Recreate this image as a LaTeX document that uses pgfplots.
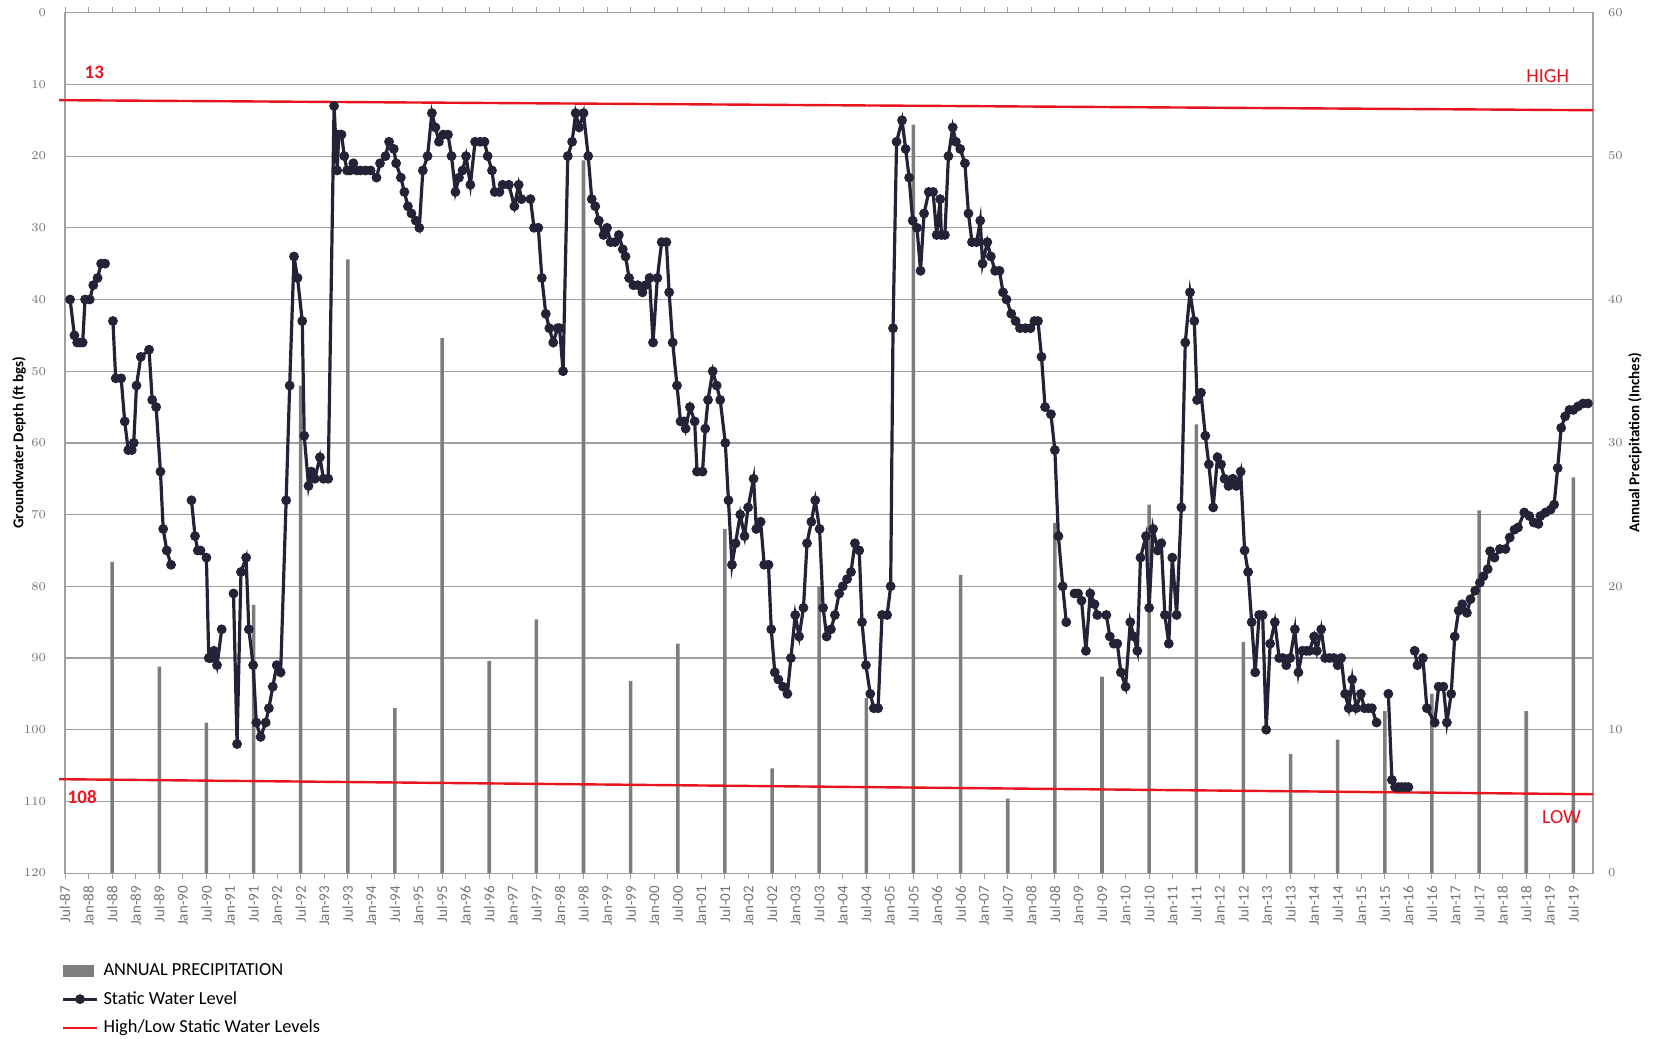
\documentclass[border=0pt]{standalone}
\usepackage{fontspec}
\setmainfont{Carlito}
\usepackage{pgfplots}
\pgfplotsset{compat=1.18}
\usetikzlibrary{calc}

\definecolor{navy}{RGB}{35,35,55}
\definecolor{bargray}{RGB}{125,125,125}
\definecolor{gridgray}{RGB}{160,160,160}
\definecolor{tickgray}{RGB}{115,115,115}
\definecolor{hlred}{RGB}{232,20,30}

\pgfplotsset{base/.style={width=764pt,height=430.2pt,scale only axis,
  xmin=0,xmax=389,clip=false,axis line style={gridgray,line width=0.6pt}}}

\begin{document}
\begin{tikzpicture}
% ---------- axis 1 : frame, grid, x ticks, left labels
\begin{axis}[base,name=main,
  ymin=0,ymax=120,y dir=reverse,
  ytick={0,10,...,120},
  ymajorgrids=true,
  grid style={gridgray,line width=0.6pt},
  ytick style={draw=none},
  yticklabel style={font=\fontsize{6.5}{8}\selectfont,text=tickgray,xshift=-3pt},
  xtick={0,6,...,384},
  xticklabels={Jul-87,Jan-88,Jul-88,Jan-89,Jul-89,Jan-90,Jul-90,Jan-91,Jul-91,Jan-92,Jul-92,Jan-93,Jul-93,Jan-94,Jul-94,Jan-95,Jul-95,Jan-96,Jul-96,Jan-97,Jul-97,Jan-98,Jul-98,Jan-99,Jul-99,Jan-00,Jul-00,Jan-01,Jul-01,Jan-02,Jul-02,Jan-03,Jul-03,Jan-04,Jul-04,Jan-05,Jul-05,Jan-06,Jul-06,Jan-07,Jul-07,Jan-08,Jul-08,Jan-09,Jul-09,Jan-10,Jul-10,Jan-11,Jul-11,Jan-12,Jul-12,Jan-13,Jul-13,Jan-14,Jul-14,Jan-15,Jul-15,Jan-16,Jul-16,Jan-17,Jul-17,Jan-18,Jul-18,Jan-19,Jul-19},
  x tick label style={rotate=90,anchor=east,font=\fontsize{7.5}{9}\selectfont,text=tickgray},
  tick align=outside,
  xtick style={gridgray,line width=0.5pt},
  major tick length=3pt,
  ylabel={\textbf{Groundwater Depth (ft bgs)}},
  y label style={at={(axis description cs:-0.0301,0.5)},anchor=center,font=\fontsize{7.5}{9}\selectfont},
]
\addplot[draw=none] coordinates {(0,0)};
\end{axis}
% ---------- axis 2 : precipitation bars, right axis
\begin{axis}[base,
  ymin=0,ymax=60,
  axis y line*=right, axis x line=none,
  xtick=\empty,
  ytick={0,10,...,60},
  ytick style={draw=none},
  yticklabel style={font=\fontsize{6.5}{8}\selectfont,text=tickgray,xshift=4pt},
  ylabel={\textbf{Annual Precipitation (Inches)}},
  y label style={at={(axis description cs:1.0275,0.5)},anchor=center,font=\fontsize{7.5}{9}\selectfont},
]
\addplot[ybar,bar width=0.9,fill=bargray,draw=none] coordinates {
(12,21.7) (24,14.4) (36,10.5) (48,18.7) (60,34) (72,42.8) (84,11.5) (96,37.3)
(108,14.8) (120,17.7) (132,49.7) (144,13.4) (156,16) (168,24) (180,7.3) (192,20)
(204,12.2) (216,52.2) (228,20.8) (240,5.2) (252,24.4) (264,13.7) (276,25.7) (288,31.3)
(300,16.1) (312,8.3) (324,9.3) (336,11.3) (348,12.5) (360,25.3) (372,11.3) (384,27.6)
};
\end{axis}
% ---------- axis 3 : water level + high/low lines
\begin{axis}[base,
  ymin=0,ymax=120,y dir=reverse,hide axis,
  unbounded coords=jump,
  legend style={at={(axis description cs:0,0)},anchor=north west,xshift=-2pt,yshift=-42.6pt,
    draw=none,fill=none,font=\fontsize{9.2}{10}\selectfont,inner sep=0pt,
    nodes={inner sep=2.4pt},row sep=1.6pt},
  legend cell align=left,
]
\addlegendimage{legend image code/.code={\fill[bargray] (0pt,-2.6pt) rectangle (15pt,2.6pt);}}
\addlegendentry{ANNUAL PRECIPITATION}
\addplot[navy,line width=1.6pt,mark=*,mark size=2.2pt,mark options={fill=navy,draw=navy,line width=0.5pt}] coordinates {
(1.3,40) (2.4,45) (3.1,46) (3.8,46) (4.5,46) (5.1,40) (6.3,40) (7.2,38) (8.3,37) (9.2,35) (10.2,35)
(11,nan)
(12.2,43) (12.9,51) (14.3,51) (15.2,57) (16.1,61) (17,61) (17.5,60) (18.2,52) (19.3,48) (21.4,47) (22.2,54) (23.2,55) (24.3,64) (25,72) (25.9,75) (27,77)
(29,nan)
(32.2,68) (33.1,73) (33.8,75) (34.5,75) (36,76) (36.6,90) (37.2,90) (37.9,89) (38.7,91) (39.9,86)
(41,nan)
(42.9,81) (43.8,102) (44.8,78) (46.1,76) (46.8,86) (47.9,91) (48.7,99) (49.8,101) (51.1,99) (51.9,97) (52.9,94) (53.9,91) (54.9,92) (56.3,68) (57.2,52) (58.3,34) (59.2,37) (60.4,43) (60.9,59) (62,66) (62.7,64) (63.6,65) (64.9,62) (65.8,65) (67,65)
(68.5,13) (69.3,22) (69.7,17) (70.4,17) (71.1,20) (71.8,22) (72.6,22) (73.4,21) (74.3,22) (75.2,22) (76.5,22) (77.8,22) (79.3,23) (80.2,21) (81.6,20) (82.5,18) (83.7,19) (84.3,21) (85.5,23) (86.4,25) (87.3,27) (88.2,28) (89.3,29) (90.2,30)
(91.1,22) (92.3,20) (93.4,14) (94.3,16) (95.2,18) (96.3,17) (97.5,17) (98.4,20) (99.4,25) (100.3,23) (101.2,22) (102.1,20) (103.2,24) (104.4,18) (105.7,18) (106.8,18) (107.6,20) (108.7,22) (109.4,25) (110.6,25) (111.4,24) (113,24) (114.4,27) (115.5,24) (116.2,26) (118.5,26) (119.4,30) (120.5,30)
(121.4,37) (122.4,42) (123.3,44) (124.3,46) (125.4,44) (125.9,44) (126.8,50) (128,20) (129.1,18) (130,14) (130.9,16) (132,14) (133.2,20) (134.1,26) (135,27) (135.9,29) (137.1,31) (138,30) (138.9,32) (140,32) (141,31) (142,33) (142.7,34) (143.6,37) (144.7,38) (145.8,38) (147,39) (147.8,38) (148.8,37) (149.7,46) (150.8,37) (151.9,32) (153.1,32) (153.8,39) (154.7,46) (155.8,52)
(156.7,57) (157.6,57) (158,58) (159.1,55) (160.3,57) (160.9,64) (162.3,64) (163,58) (163.7,54) (164.9,50) (165.9,52) (166.8,54) (168.1,60) (168.9,68) (169.8,77) (170.7,74) (171.9,70) (173,73) (173.9,69) (175.3,65) (176,72) (177.1,71) (178,77) (179.1,77) (179.8,86) (180.7,92) (181.6,93) (182.8,94) (183.9,95) (184.8,90) (185.9,84) (186.9,87) (188,83) (188.9,74) (190,71) (191,68) (192.1,72) (193,83) (193.9,87) (195,86) (196,84) (197.1,81) (198,80) (199.1,79) (200.1,78) (201.1,74) (202.2,75) (202.9,85) (203.9,91) (205,95) (205.9,97) (207,97) (208,84) (209.3,84) (210.2,80)
(210.8,44) (211.7,18) (213.1,15) (214,19) (214.9,23) (215.8,29) (216.9,30) (217.8,36) (218.7,28) (219.9,25) (221,25) (221.9,31) (222.8,26) (223.1,31) (224,31) (224.9,20) (226,16) (226.8,18) (227.9,19) (229.1,21) (230,28) (230.9,32) (232.1,32) (233,29) (233.6,35) (234.8,32) (235.7,34) (236.8,36) (237.9,36) (238.8,39) (239.7,40) (240.9,42) (242,43) (243.1,44) (244.5,44) (245.8,44) (246.8,43) (247.7,43) (248.6,48) (249.5,55) (251,56) (252,61) (252.9,73) (254,80) (254.9,85)
(256,nan)
(257,81) (257.9,81) (258.8,82) (259.9,89) (261,81) (262.1,82.5) (262.8,84) (265.1,84) (266,87) (267,88) (267.9,88) (268.8,92) (270,94) (271.2,85) (272.1,87) (273,89) (273.8,76) (275.2,73) (276,83) (277,72) (278.2,75) (279.1,74) (280,84) (281,88) (281.9,76) (283,84) (284.2,69) (285.2,46) (286.4,39) (287.5,43) (288.2,54) (289.2,53) (290.3,59) (291.2,63) (292.3,69) (293.4,62) (294.3,63) (295.2,65) (296.2,66) (297.3,65) (298.2,66) (299.3,64) (300.3,75) (301.2,78) (302.1,85) (303,92) (304,84) (304.9,84) (305.8,100) (306.8,88) (308,85) (309.1,90) (310,90) (310.9,91) (311.9,90) (313.1,86) (314,92) (315,89) (316,89) (316.8,89) (318,87) (318.7,89) (319.8,86) (320.8,90) (321.9,90) (323,90) (324,91) (324.9,90) (325.9,95) (326.8,97) (327.7,93) (328.7,97) (329.9,95) (330.8,97) (331.8,97) (332.7,97) (333.9,99)
(335,nan)
(336.9,95) (337.8,107) (338.6,108) (339.5,108) (340.3,108) (341.2,108) (342,108)
(343,nan)
(343.6,89) (344.3,91) (345.7,90) (346.7,97) (348.7,99) (349.7,94) (350.9,94) (351.8,99) (352.9,95) (353.8,87) (354.8,83.4) (355.7,82.5) (356.9,83.7) (357.8,81.8) (359,80.6) (360.2,79.5) (361.1,78.6) (362.2,77.6) (362.8,75.1) (363.9,76) (365.3,74.8) (366.7,74.8) (367.8,73.2) (369,72.1) (369.9,71.8) (371.5,69.7) (372.8,70.2) (373.9,71.1) (375.1,71.3) (375.6,70.2) (376.9,69.7) (378.2,69.3) (379.1,68.6) (380,63.5) (380.9,57.9) (381.9,56.3) (383,55.4) (384,55.4) (385.2,54.9) (386.5,54.5) (387.7,54.5)
};
\addlegendentry{Static Water Level}
\addplot[hlred,line width=1.2pt] coordinates {(-1.5,12.2) (389,13.6)};
\addlegendentry{High/Low Static Water Levels}
\addplot[hlred,line width=1.2pt,forget plot] coordinates {(-1.5,106.9) (389,109)};
\node[anchor=west,text=hlred,font=\fontsize{9.5}{10}\selectfont\bfseries] at (axis cs:3.2,8.3) {13};
\node[anchor=west,text=hlred,font=\fontsize{9.5}{10}\selectfont\bfseries] at (axis cs:-1.1,109.4) {108};
\node[anchor=east,text=hlred,font=\fontsize{10}{11}\selectfont] at (axis cs:384.7,8.8) {HIGH};
\node[anchor=east,text=hlred,font=\fontsize{10}{11}\selectfont] at (axis cs:387.7,112.2) {LOW};
\end{axis}
\pgfresetboundingbox
\path ($(main.south west)+(-32.5pt,-82.5pt)$) rectangle ($(main.north east)+(32.5pt,6.35pt)$);
\end{tikzpicture}
\end{document}
